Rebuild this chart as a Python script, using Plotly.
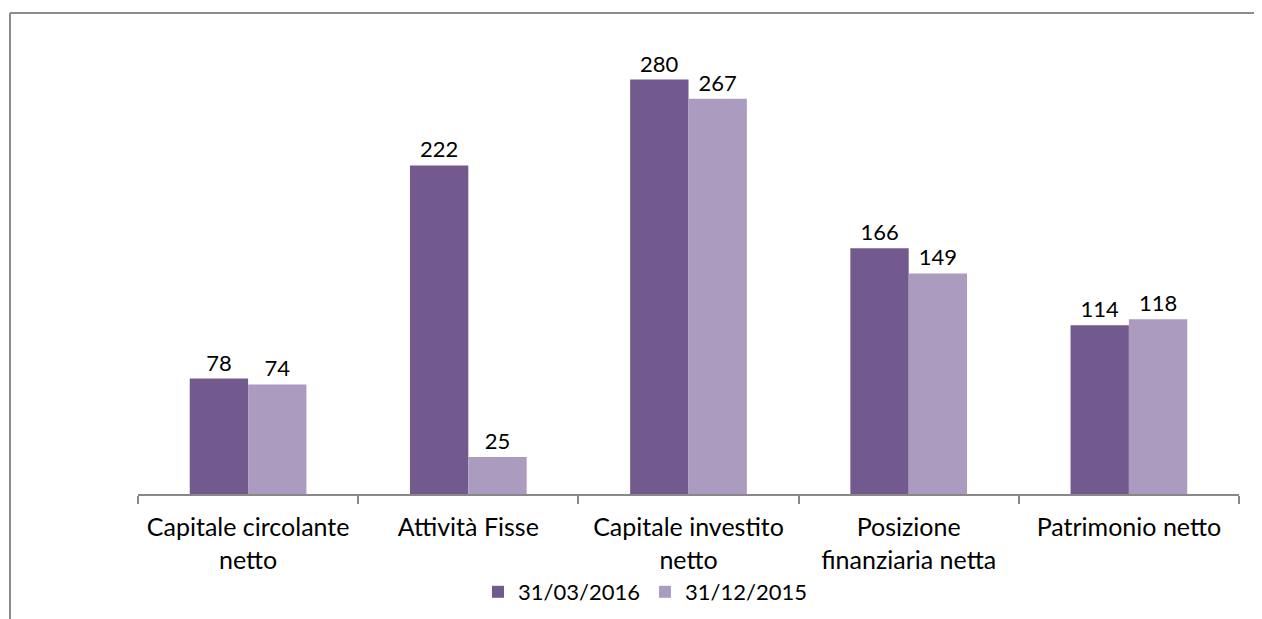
import plotly.graph_objects as go

categories = ["Capitale circolante<br>netto", "Attività Fisse", "Capitale investito<br>netto",
              "Posizione<br>finanziaria netta", "Patrimonio netto"]
series_names = ["31/03/2016", "31/12/2015"]
values_2016 = [78, 222, 280, 166, 114]
values_2015 = [74, 25, 267, 149, 118]
colors = ["#725A8F", "#AA9BBF"]

# page has an 8px body margin; work in figure coordinates = reference - 8
OFF = 8
W, H = 1262 - OFF, 619 - OFF
ml, mr, mt, mb = 138 - OFF, 23, 50 - OFF, 125
pw = W - ml - mr
ph = H - mt - mb

font_family = "Lato, 'Open Sans', sans-serif"

fig = go.Figure()
for name, vals, col in zip(series_names, [values_2016, values_2015], colors):
    fig.add_trace(go.Bar(
        x=categories, y=vals, name=name, marker_color=col,
        marker_line_width=0,
        text=[str(v) for v in vals], textposition="outside",
        textfont=dict(size=22, color="#000000", family=font_family),
        cliponaxis=False,
    ))

def px_x(p):
    return (p - OFF - ml) / pw

def px_y(p):
    return (H - mb - (p - OFF)) / ph

fig.update_layout(
    width=W, height=H,
    margin=dict(l=ml, r=mr, t=mt, b=mb, autoexpand=False),
    paper_bgcolor="white", plot_bgcolor="white",
    barmode="group", bargap=0.47, bargroupgap=0,
    font=dict(family=font_family, size=22, color="#000000"),
    showlegend=True,
    legend=dict(orientation="h", x=px_x(645), xanchor="center", y=px_y(592), yanchor="middle",
                font=dict(size=22), traceorder="normal"),
    xaxis=dict(showgrid=False, showline=True, linecolor="#888888", linewidth=2,
               ticks="outside", tickson="boundaries", ticklen=8, tickcolor="#888888", tickwidth=2,
               tickfont=dict(size=25), ticklabelstandoff=10, automargin=False),
    yaxis=dict(range=[0, 300], visible=False, showgrid=False, automargin=False),
    shapes=[
        dict(type="line", xref="paper", yref="paper", x0=px_x(10), x1=px_x(1262 + 5),
             y0=px_y(13), y1=px_y(13), line=dict(color="#8c8c8c", width=2)),
        dict(type="line", xref="paper", yref="paper", x0=px_x(10), x1=px_x(10),
             y0=px_y(13), y1=px_y(619 + 5), line=dict(color="#8c8c8c", width=2)),
    ],
)

fig.write_html("out.html")
